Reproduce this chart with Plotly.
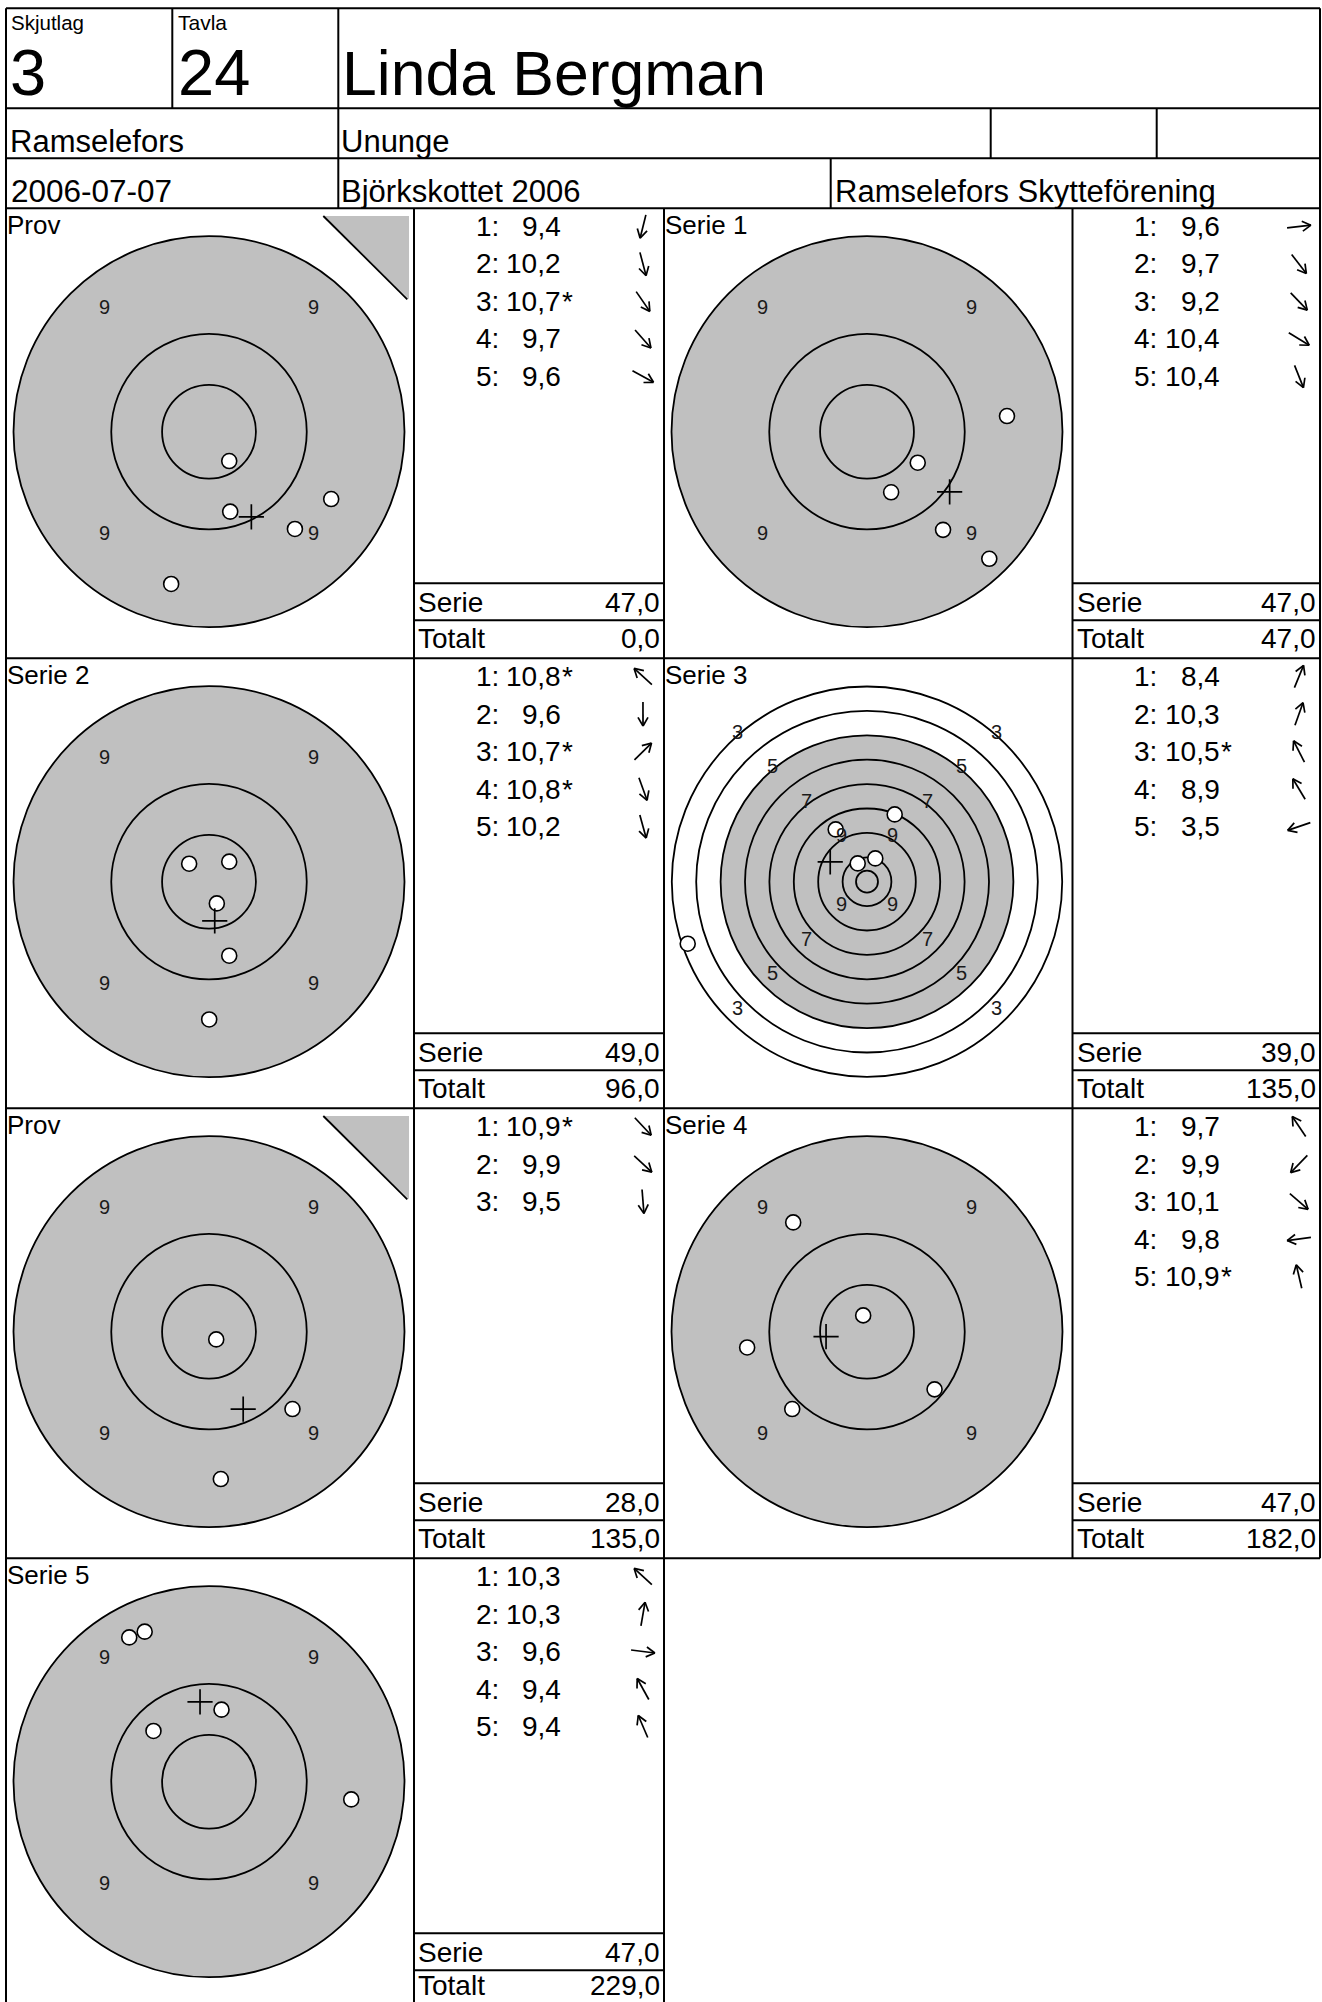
import math
import plotly.graph_objects as go

W, H = 1322, 2002
FONT = "Liberation Sans, Arial, sans-serif"

# ---------------- data ----------------
skjutlag = "3"
tavla = "24"
shooter = "Linda Bergman"
ort = "Ramselefors"
klass = "Ununge"
datum = "2006-07-07"
tavling = "Björkskottet 2006"
forening = "Ramselefors Skytteförening"

panel_titles = ["Prov", "Serie 1", "Serie 2", "Serie 3", "Prov", "Serie 4", "Serie 5"]
target_kind = ["zoom", "zoom", "zoom", "full", "zoom", "zoom", "zoom"]

shot_scores = [
    ["9,4", "10,2", "10,7*", "9,7", "9,6"],
    ["9,6", "9,7", "9,2", "10,4", "10,4"],
    ["10,8*", "9,6", "10,7*", "10,8*", "10,2"],
    ["8,4", "10,3", "10,5*", "8,9", "3,5"],
    ["10,9*", "9,9", "9,5"],
    ["9,7", "9,9", "10,1", "9,8", "10,9*"],
    ["10,3", "10,3", "9,6", "9,4", "9,4"],
]
# shot positions in ring units (x right, y up), in shot order
shots_x = [
    [-0.387, 0.217, 0.207, 0.879, 1.250],
    [1.432, 0.778, 1.251, 0.519, 0.247],
    [-0.203, 0.002, 0.207, 0.080, 0.207],
    [1.135, 0.340, -0.381, -1.283, -7.348],
    [0.074, 0.854, 0.121],
    [-0.755, -0.765, 0.691, -1.226, -0.039],
    [-0.568, 0.128, 1.455, -0.816, -0.658],
]
shots_y = [
    [-1.558, -0.818, -0.300, -0.995, -0.689],
    [0.160, -1.004, -1.300, -0.317, -0.620],
    [0.184, -1.409, 0.205, -0.222, -0.757],
    [2.758, 0.955, 0.750, 2.143, -2.541],
    [-0.079, -0.791, -1.507],
    [1.118, -0.791, -0.590, -0.161, 0.167],
    [0.519, 0.737, -0.181, 1.476, 1.535],
]
serie_sums = ["47,0", "47,0", "49,0", "39,0", "28,0", "47,0", "47,0"]
totals = ["0,0", "47,0", "96,0", "135,0", "135,0", "182,0", "229,0"]

# target geometry (ring units)
KIND = {
    "zoom": dict(scale=97.75, gray=2.0, rings=[1.0, 0.48], outer=[], labels=[("9", 1.635)]),
    "full": dict(scale=24.4, gray=6.0, rings=[5, 4, 3, 2, 1, 0.45], outer=[8, 7],
                 labels=[("3", 8), ("5", 6), ("7", 4), ("9", 2)]),
}

# ---------------- layout geometry (page px) ----------------
L0, R0, T0 = 6, 1320, 8.3
HROW = [108.3, 158.3, 208.3]
TGT_LEFT = [6, 664]
SC_LEFT = [414, 1072.5]
SC_RIGHT = [664, 1320]
ROW_TOP = [208.3 + 450 * r for r in range(4)]
GRAY = "#c0c0c0"
TS = 28  # score table font size


def px(x):
    return x / W


def py(y):
    return 1 - y / H


shapes = []
annotations = []


def line(x0, y0, x1, y1, w=2):
    shapes.append(dict(type="line", xref="paper", yref="paper", x0=px(x0), y0=py(y0),
                       x1=px(x1), y1=py(y1), line=dict(color="black", width=w)))


def text(x, y, s, size, anchor="left", color="black"):
    annotations.append(dict(x=px(x), y=py(y), xref="paper", yref="paper", text=s,
                            showarrow=False, xanchor=anchor, yanchor="middle", borderpad=0,
                            font=dict(family=FONT, size=size, color=color)))


# header frame
line(L0, T0, R0, T0)
for yy in HROW:
    line(L0, yy, R0, yy)
line(L0, T0, L0, 2010)
line(R0, T0, R0, ROW_TOP[3])
line(172.3, T0, 172.3, HROW[0])
line(338.3, T0, 338.3, HROW[2])
line(990.7, HROW[0], 990.7, HROW[1])
line(1156.7, HROW[0], 1156.7, HROW[1])
line(830.7, HROW[1], 830.7, HROW[2])

# header texts
text(10, 22.5, "Skjutlag", 20.5)
text(177, 22.5, "Tavla", 21)
text(9, 72.5, skjutlag, 65)
text(176.5, 72.5, tavla, 65)
text(340.5, 72.5, shooter, 62.5)
text(9.3, 141, ort, 31)
text(340, 141, klass, 31)
text(10.3, 191.5, datum, 31.5)
text(340, 191.5, tavling, 31)
text(833.5, 191.5, forening, 31)

# panel frames
for r in range(4):
    top = ROW_TOP[r]
    bot = top + 450 if r < 3 else 2010
    if r < 3:
        line(L0, bot, R0, bot)
        for xx in (414, 664, 1072.5):
            line(xx, top, xx, bot)
    else:
        for xx in (414, 664):
            line(xx, top, xx, bot)

layout_axes = {}
traces = []

# page overlay axis (for arrows)
layout_axes["xaxis"] = dict(domain=[0, 1], range=[0, W], visible=False, fixedrange=True)
layout_axes["yaxis"] = dict(domain=[0, 1], range=[H, 0], visible=False, fixedrange=True)

RDOM = 200.0
for i, title in enumerate(panel_titles):
    r, c = divmod(i, 2)
    top = ROW_TOP[r]
    tl = TGT_LEFT[c]
    sl, sr = SC_LEFT[c], SC_RIGHT[c]
    kind = KIND[target_kind[i]]
    s = kind["scale"]
    cx, cy = tl + 203, top + 223.4
    n = i + 2
    xa, ya = f"x{n}", f"y{n}"
    layout_axes[f"xaxis{n}"] = dict(domain=[px(cx - RDOM), px(cx + RDOM)], range=[-RDOM / s, RDOM / s],
                                    visible=False, fixedrange=True, anchor=ya)
    layout_axes[f"yaxis{n}"] = dict(domain=[py(cy + RDOM), py(cy - RDOM)], range=[-RDOM / s, RDOM / s],
                                    visible=False, fixedrange=True, anchor=xa)

    def circ(rad, fill=None):
        d = dict(type="circle", xref=xa, yref=ya, x0=-rad, x1=rad, y0=-rad, y1=rad,
                 line=dict(color="black", width=1.8), layer="below")
        if fill:
            d["fillcolor"] = fill
        shapes.append(d)

    for rad in kind["outer"]:
        circ(rad)
    circ(kind["gray"], GRAY)
    for rad in kind["rings"]:
        circ(rad)

    for lab, rad in kind["labels"]:
        a = rad * s / math.sqrt(2)
        for sx in (-1, 1):
            for sy in (-1, 1):
                annotations.append(dict(x=sx * (a - 9) / s, y=(12 + sy * a) / s, xref=xa, yref=ya,
                                        text=lab, showarrow=False, xanchor="center", yanchor="middle",
                                        borderpad=0, font=dict(family=FONT, size=20, color="#1a1a1a")))

    # shots
    xs, ys = shots_x[i], shots_y[i]
    traces.append(go.Scatter(x=xs, y=ys, mode="markers", xaxis=xa, yaxis=ya, hoverinfo="skip",
                             marker=dict(symbol="circle", size=15, color="white",
                                         line=dict(color="black", width=1.6))))
    mx, my = sum(xs) / len(xs), sum(ys) / len(ys)
    traces.append(go.Scatter(x=[mx], y=[my], mode="markers", xaxis=xa, yaxis=ya, hoverinfo="skip",
                             marker=dict(symbol="cross-thin", size=18, color="black",
                                         line=dict(color="black", width=1.7))))

    # title
    text(tl - 0.5, top + 16.7, title, 26)

    # Prov corner triangle
    if title == "Prov":
        x1, y1 = tl + 317.3, top + 7.7
        x2, y2 = tl + 403, top + 91
        shapes.append(dict(type="path", xref="paper", yref="paper",
                           path=f"M {px(x1)},{py(y1)} L {px(x2)},{py(y1)} L {px(x2)},{py(y2)} Z",
                           fillcolor=GRAY, line=dict(width=0)))
        line(x1, y1, x2 - 1.7, y2, w=1.8)

    # score table
    ax_x, ay_x = [], []
    for j, sc in enumerate(shot_scores[i]):
        yrow = top + 18.2 + 37.5 * j
        text(sl + 85.5, yrow, f"{j + 1}:", TS, anchor="right")
        val = sc.rstrip("*")
        text(sl + 148, yrow, val, TS, anchor="right")
        if sc.endswith("*"):
            text(sl + 147, yrow, "*", TS, anchor="left")
        th = math.atan2(ys[j], xs[j])
        dx, dy = math.cos(th), -math.sin(th)
        ccx = sr - 21
        tx, ty = ccx - 12 * dx, yrow - 12 * dy
        hx, hy = ccx + 12 * dx, yrow + 12 * dy
        ax_x += [tx, hx, None]
        ay_x += [ty, hy, None]
        for phi in (math.radians(30), -math.radians(30)):
            rx = dx * math.cos(phi) - dy * math.sin(phi)
            ry = dx * math.sin(phi) + dy * math.cos(phi)
            ax_x += [hx - 10 * rx, hx, None]
            ay_x += [hy - 10 * ry, hy, None]
    traces.append(go.Scatter(x=ax_x, y=ay_x, mode="lines", xaxis="x", yaxis="y", hoverinfo="skip",
                             line=dict(color="black", width=1.7)))

    line(sl, top + 375, sr, top + 375)
    line(sl, top + 412, sr, top + 412)
    ty_tot = min(top + 430.5, H - 17)
    text(sl + 3.5, top + 394.5, "Serie", TS)
    text(sr - 3, top + 394.5, serie_sums[i], TS, anchor="right")
    text(sl + 3.5, ty_tot, "Totalt", TS)
    text(sr - 3, ty_tot, totals[i], TS, anchor="right")

fig = go.Figure(data=traces)
fig.update_layout(
    width=W, height=H, margin=dict(l=0, r=0, t=0, b=0),
    paper_bgcolor="white", plot_bgcolor="rgba(0,0,0,0)",
    showlegend=False, shapes=shapes, annotations=annotations,
    font=dict(family=FONT, color="black"),
    **layout_axes,
)
fig.write_html("out.html", config={"displayModeBar": False, "staticPlot": True},
               post_script="document.body.style.margin='0';document.body.style.overflow='hidden';")
